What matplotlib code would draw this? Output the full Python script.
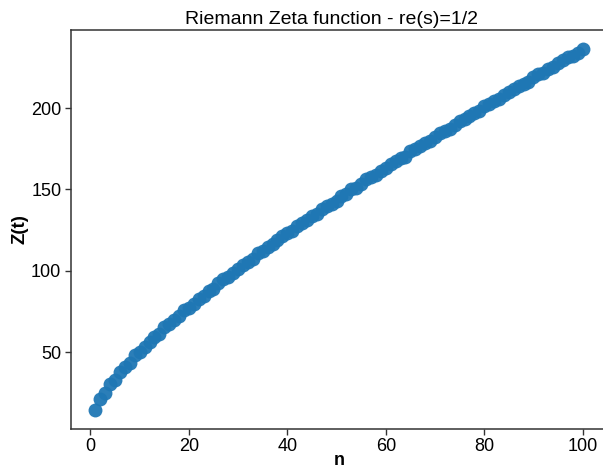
import matplotlib
matplotlib.use("Agg")
import matplotlib.pyplot as plt

# First 100 non-trivial zeros of the Riemann zeta function (imaginary parts)
n_values = list(range(1, 101))
zeros_t = [
    14.134725, 21.022040, 25.010858, 30.424876, 32.935062, 37.586178, 40.918719, 43.327073, 48.005151, 49.773832,
    52.970321, 56.446248, 59.347044, 60.831779, 65.112544, 67.079811, 69.546402, 72.067158, 75.704691, 77.144840,
    79.337375, 82.910381, 84.735493, 87.425275, 88.809111, 92.491899, 94.651344, 95.870634, 98.831194, 101.317851,
    103.725538, 105.446623, 107.168611, 111.029536, 111.874659, 114.320221, 116.226680, 118.790783, 121.370125, 122.946829,
    124.256819, 127.516684, 129.578704, 131.087689, 133.497737, 134.756510, 138.116042, 139.736209, 141.123707, 143.111846,
    146.000982, 147.422765, 150.053520, 150.925258, 153.024694, 156.112909, 157.597592, 158.849988, 161.188964, 163.030709,
    165.537069, 167.184440, 169.094515, 169.911977, 173.411537, 174.754191, 176.441434, 178.377408, 179.916484, 182.207078,
    184.874468, 185.598784, 187.228923, 189.416159, 192.026656, 193.079727, 195.265397, 196.876482, 198.015310, 201.264752,
    202.493595, 204.189672, 205.394697, 207.906259, 209.576510, 211.690863, 213.347919, 214.547045, 216.169539, 219.067596,
    220.714919, 221.430706, 224.007000, 224.983325, 227.421444, 229.337413, 231.250189, 231.987235, 233.693404, 236.524230,
]
x_ticks = [0, 20, 40, 60, 80, 100]
y_ticks = [50, 100, 150, 200]

plt.rcParams['font.family'] = ['Liberation Sans', 'DejaVu Sans']

fig = plt.figure(figsize=(6.03, 4.69), dpi=100)
# axes: left spine at x=71px, bottom at y=428px, top at y=31px; right edge beyond figure
left = 71 / 603
bottom = (469 - 428.5) / 469
height = (428.5 - 30.5) / 469
width = (607 - 71) / 603
ax = fig.add_axes([left, bottom, width, height])

ax.scatter(n_values, zeros_t, s=100, color='#1f77b4', alpha=0.95, linewidths=0)

ax.set_xticks(x_ticks)
ax.set_yticks(y_ticks)
ax.tick_params(labelsize=13, length=4, width=1, color='#333333', pad=3)
for sp in ax.spines.values():
    sp.set_linewidth(1.1)
    sp.set_color('#333333')
ax.spines['right'].set_visible(False)

ax.set_xlabel('n', fontsize=13, fontweight='bold', labelpad=-2)
ax.set_ylabel('Z(t)', fontsize=13.5, fontweight='bold', labelpad=2)
fig.text(185 / 603, 1 - 24.5 / 469, 'Riemann Zeta function - re(s)=1/2', fontsize=14,
         ha='left', va='baseline')

fig.savefig('out.png', dpi=100)
